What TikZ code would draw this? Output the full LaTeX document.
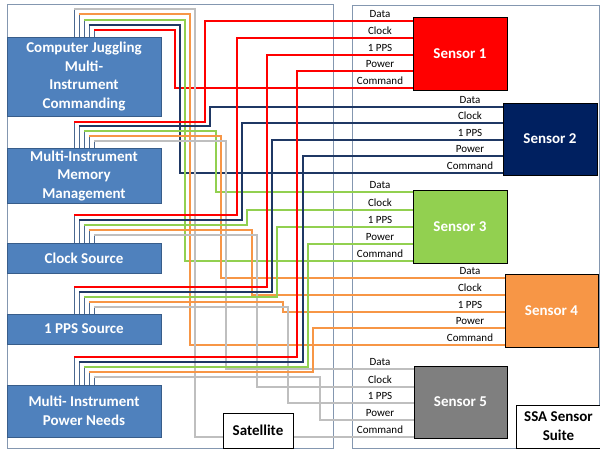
\documentclass[tikz,border=0pt]{standalone}
\usepackage{fontspec}
\setmainfont{Carlito}
\definecolor{wred}{HTML}{FF0000}
\definecolor{wnavy}{HTML}{1F3864}
\definecolor{wgreen}{HTML}{92D050}
\definecolor{worange}{HTML}{F79646}
\definecolor{wgray}{HTML}{BFBFBF}
\definecolor{boxblue}{HTML}{4F81BD}
\definecolor{boxedge}{HTML}{385D8A}
\definecolor{stubcol}{HTML}{4A6890}
\definecolor{framecol}{HTML}{8497B0}
\definecolor{s2fill}{HTML}{002060}
\definecolor{s5fill}{HTML}{7F7F7F}
\newcommand\mywire[7]{%
  \draw[stubln] (#2.north -| #3,0) -- (#3,#4);
  \draw[wireln,#1] (#3,#4) -- (#5,#4) -- (#5,#7) -- (#6.west |- 0,#7);}
\begin{document}
\begin{tikzpicture}[x=1pt,y=-1pt,
  srcbox/.style={draw=boxedge, fill=boxblue, line width=0.8pt, text=white,
    font=\fontsize{15}{18.5}\selectfont\bfseries, align=center, inner sep=0pt,
    minimum width=154pt},
  sensorbox/.style={draw=black, line width=0.8pt, minimum width=94pt,
    minimum height=73pt, text=white, font=\fontsize{15}{18}\selectfont\bfseries, inner sep=0pt},
  lbl/.style={font=\fontsize{11}{12}\selectfont, text=black, inner sep=0pt},
  wireln/.style={line width=2pt},
  stubln/.style={draw=stubcol, line width=1pt},
  framebox/.style={draw=framecol, line width=1pt},
  tagbox/.style={draw=black, line width=0.8pt, fill=white, text=black,
    font=\fontsize{15}{19}\selectfont\bfseries, align=center, inner sep=0pt}]
\useasboundingbox (0,0) rectangle (600,450);
\fill[white] (0,0) rectangle (600,450);
% frames
\draw[framebox] (7,4) rectangle (333,448);
\draw[framebox] (352,5) rectangle (599.5,448);
% source boxes (placed first for anchors)
\node[srcbox, minimum height=79pt] (cj) at (84,76.5) {Computer Juggling\\Multi-\\Instrument\\Commanding};
\node[srcbox, minimum height=55pt] (mm) at (84,175.5) {Multi-Instrument\\Memory\\Management};
\node[srcbox, minimum height=30pt] (clk) at (84,258) {Clock Source};
\node[srcbox, minimum height=30pt] (pps) at (84,329) {1 PPS Source};
\node[srcbox, minimum height=52pt] (pwr) at (84,411) {Multi- Instrument\\Power Needs};
% sensors
\node[sensorbox, fill=wred] (s1) at (460,54) {Sensor 1};
\node[sensorbox, fill=s2fill, minimum height=72pt] (s2) at (550,139) {Sensor 2};
\node[sensorbox, fill=wgreen] (s3) at (460,226.5) {Sensor 3};
\node[sensorbox, fill=worange, minimum width=93pt] (s4) at (551.5,310.5) {Sensor 4};
\node[sensorbox, fill=s5fill, minimum width=93pt, minimum height=72pt] (s5) at (460.5,402) {Sensor 5};
% Command wires
\mywire{wred}{cj}{94}{30}{175}{s1}{88}
\mywire{wnavy}{cj}{89}{25}{180}{s2}{173}
\mywire{wgreen}{cj}{84}{20}{185}{s3}{261}
\mywire{worange}{cj}{79}{14}{190}{s4}{345}
\mywire{wgray}{cj}{74}{9}{195}{s5}{437}
% Data wires
\mywire{wred}{mm}{74}{122}{205}{s1}{21}
\mywire{wnavy}{mm}{79}{126}{210}{s2}{107}
\mywire{wgreen}{mm}{84}{131}{216}{s3}{192}
\mywire{worange}{mm}{89}{136}{221}{s4}{278}
\mywire{wgray}{mm}{94}{141}{226}{s5}{369}
% Clock wires
\mywire{wred}{clk}{74}{215}{237}{s1}{38}
\mywire{wnavy}{clk}{79}{220}{242}{s2}{123}
\mywire{wgreen}{clk}{84}{225}{247}{s3}{210}
\mywire{worange}{clk}{89}{230}{252}{s4}{295}
\mywire{wgray}{clk}{94}{235}{257}{s5}{387}
% 1 PPS wires
\mywire{wred}{pps}{74}{287}{267}{s1}{55}
\mywire{wnavy}{pps}{79}{292}{272}{s2}{140}
\mywire{wgreen}{pps}{84}{297}{277}{s3}{227}
\mywire{worange}{pps}{89}{302}{283}{s4}{312}
\mywire{wgray}{pps}{94}{307}{288}{s5}{403}
% Power wires
\mywire{wred}{pwr}{74}{357}{297}{s1}{71}
\mywire{wnavy}{pwr}{79}{362}{303}{s2}{156}
\mywire{wgreen}{pwr}{84}{367}{308}{s3}{244}
\mywire{worange}{pwr}{89}{372}{313}{s4}{328}
\mywire{wgray}{pwr}{94}{377}{320}{s5}{420}
% redraw boxes on top of wires
\node[srcbox, minimum height=79pt] at (cj) {Computer Juggling\\Multi-\\Instrument\\Commanding};
\node[srcbox, minimum height=55pt] at (mm) {Multi-Instrument\\Memory\\Management};
\node[srcbox, minimum height=30pt] at (clk) {Clock Source};
\node[srcbox, minimum height=30pt] at (pps) {1 PPS Source};
\node[srcbox, minimum height=52pt] at (pwr) {Multi- Instrument\\Power Needs};
% signal labels
\foreach \yy/\tt in {14/Data,31/Clock,48/1 PPS,64/Power,81/Command}{\node[lbl] at (380,\yy) {\tt};}
\foreach \yy/\tt in {100/Data,116/Clock,133/1 PPS,149/Power,166/Command}{\node[lbl] at (470,\yy) {\tt};}
\foreach \yy/\tt in {185/Data,203/Clock,220/1 PPS,237/Power,254/Command}{\node[lbl] at (380,\yy) {\tt};}
\foreach \yy/\tt in {271/Data,288/Clock,305/1 PPS,321/Power,338/Command}{\node[lbl] at (470,\yy) {\tt};}
\foreach \yy/\tt in {362/Data,380/Clock,396/1 PPS,413/Power,430/Command}{\node[lbl] at (380,\yy) {\tt};}
% tag boxes
\node[tagbox, minimum width=70pt, minimum height=35pt] (sat) at (258,430.5) {Satellite};
\node[tagbox, minimum width=84pt, minimum height=43pt] (ssa) at (558.5,426.5) {SSA Sensor\\Suite};
\end{tikzpicture}
\end{document}
